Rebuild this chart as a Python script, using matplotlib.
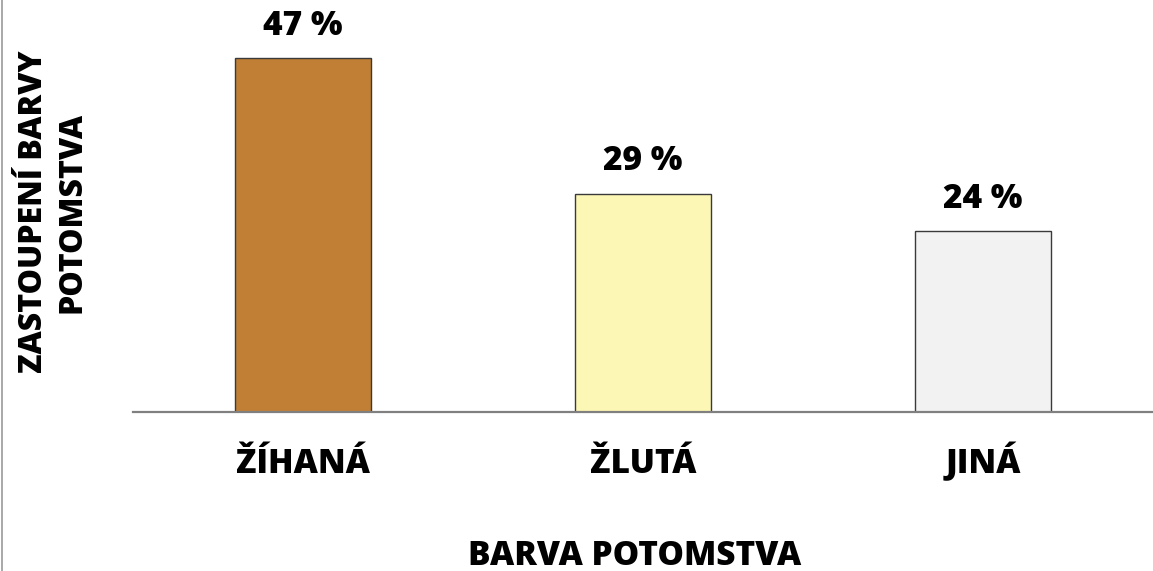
import matplotlib
matplotlib.use("Agg")
import matplotlib.pyplot as plt
from matplotlib.lines import Line2D

# data
categories = ["ŽÍHANÁ", "ŽLUTÁ", "JINÁ"]
shares = [47, 29, 24]
bar_colors = ["#C07F35", "#FDF7B6", "#F2F2F2"]

plt.rcParams["font.family"] = ["Open Sans", "DejaVu Sans"]
W = 800  # extra bold

fig = plt.figure(figsize=(11.53, 5.71), dpi=100)
ax = fig.add_axes([133 / 1153, 1 - 412 / 571, 1020 / 1153, 412 / 571])

x = range(len(categories))
bars = ax.bar(x, shares, width=0.4, color=bar_colors,
              edgecolor="#3a3a3a", linewidth=1.0, zorder=2)

for b, v in zip(bars, shares):
    ax.annotate(f"{v} %", (b.get_x() + b.get_width() / 2, b.get_height()),
                xytext=(0, 11), textcoords="offset points",
                ha="center", va="bottom", fontsize=24, fontweight=W)

ax.set_xlim(-0.5, 2.5)
ax.set_ylim(0, 54.7)
ax.set_xticks(list(x))
ax.set_xticklabels(categories, fontsize=24, fontweight=W, va="baseline")
ax.tick_params(axis="x", length=0, pad=44)
ax.set_yticks([])

for s in ["top", "right", "left"]:
    ax.spines[s].set_visible(False)
ax.spines["bottom"].set_color("#808080")
ax.spines["bottom"].set_linewidth(1.6)

ax.set_xlabel("BARVA POTOMSTVA", fontsize=24, fontweight=W)
ax.xaxis.label.set_va("baseline")
ax.xaxis.set_label_coords(0.492, -(565 - 412) / 412)
ax.set_ylabel("ZASTOUPENÍ BARVY\nPOTOMSTVA", fontsize=23, fontweight=W,
              linespacing=1.25)
ax.yaxis.label.set_va("center")
ax.yaxis.set_label_coords(-0.078, 0.485)

# thin frame line on the left edge
fig.add_artist(Line2D([0.0015, 0.0015], [0, 1], transform=fig.transFigure,
                      color="#9a9a9a", linewidth=1.2))

fig.savefig("out.png", dpi=100)
